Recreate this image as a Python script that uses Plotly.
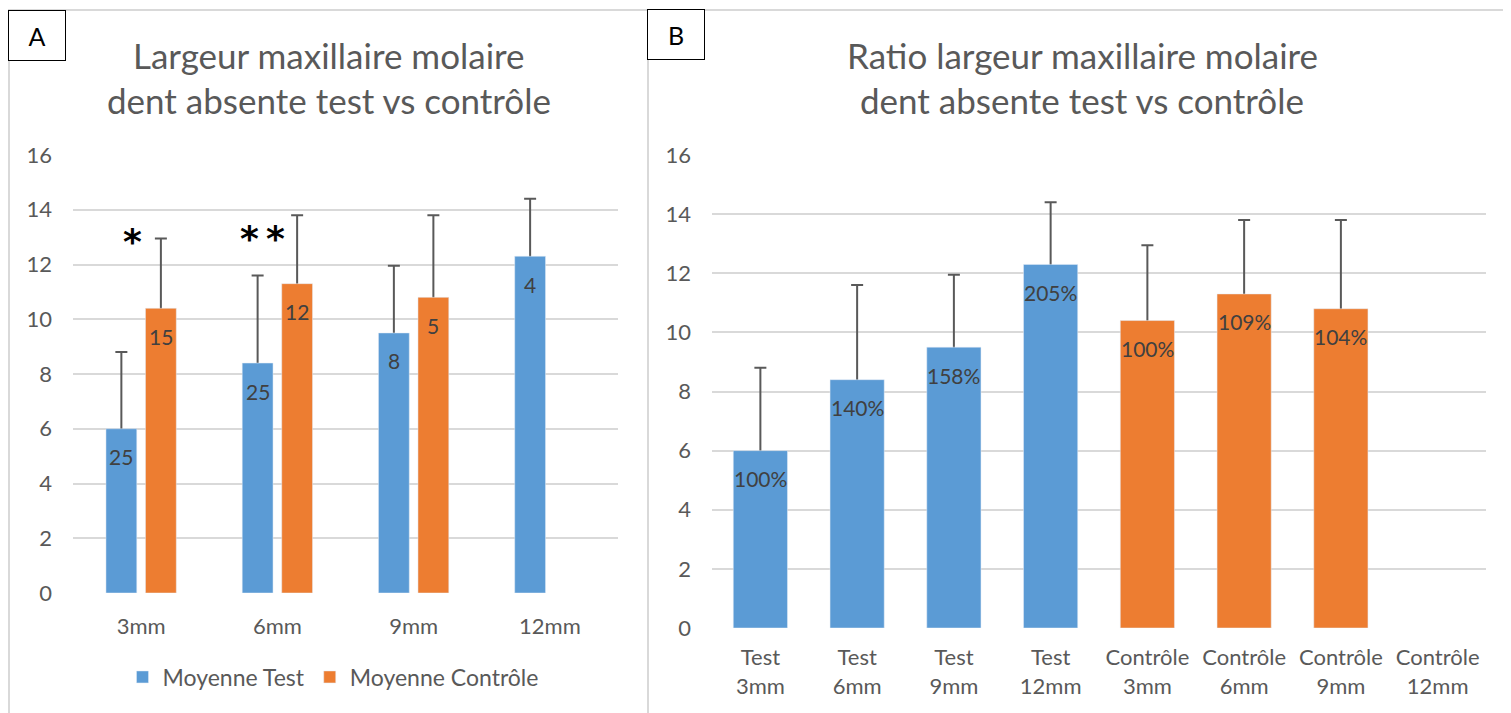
import plotly.graph_objects as go

# ---------------- data ----------------
sizes = ["3mm", "6mm", "9mm", "12mm"]
test_mean = [6.0, 8.4, 9.5, 12.3]
test_err = [2.8, 3.2, 2.45, 2.1]
test_n = [25, 25, 8, 4]
ctrl_mean = [10.4, 11.3, 10.8, None]
ctrl_err = [2.55, 2.5, 3.0, None]
ctrl_n = [15, 12, 5, None]
test_ratio = ["100%", "140%", "158%", "205%"]
ctrl_ratio = ["100%", "109%", "104%", None]
b_categories = ["Test<br>3mm", "Test<br>6mm", "Test<br>9mm", "Test<br>12mm",
                "Contrôle<br>3mm", "Contrôle<br>6mm", "Contrôle<br>9mm", "Contrôle<br>12mm"]
y_ticks = [0, 2, 4, 6, 8, 10, 12, 14, 16]
star_labels = ["*", "*\u2009*"]
star_levels = [12.85, 12.95]

# ---------------- style ----------------
W, H = 1511, 713
OFF = 8  # page body margin
BLUE = "#5B9BD5"
ORANGE = "#ED7D31"
GRID = "#D9D9D9"
TXT = "#595959"
LBL = "#404040"
ERR = "#595959"
FONT = "Lato"
BARGAP = 0.42
HIDE = 0.15  # error bar lower cap tucked under the bar top


def px_x(p):
    return (p - OFF) / W


def px_y(p):
    return 1 - (p - OFF) / H


def err_style(arr):
    return dict(type="data", symmetric=False, array=arr,
                arrayminus=[None if a is None else HIDE for a in arr],
                color=ERR, thickness=2, width=6)


clear = dict(color="rgba(0,0,0,0)", line=dict(width=0))
fig = go.Figure()

# --- error bar carriers (drawn first, covered by the real bars) ---
fig.add_trace(go.Bar(x=sizes, y=test_mean, marker=clear, offsetgroup="t", showlegend=False,
                     error_y=err_style(test_err), xaxis="x", yaxis="y", hoverinfo="skip"))
fig.add_trace(go.Bar(x=sizes, y=ctrl_mean, marker=clear, offsetgroup="c", showlegend=False,
                     error_y=err_style(ctrl_err), xaxis="x", yaxis="y", hoverinfo="skip"))

b_values = test_mean + ctrl_mean
b_err = test_err + ctrl_err
b_colors = [BLUE] * len(test_mean) + [ORANGE] * len(ctrl_mean)
b_text = test_ratio + ctrl_ratio
fig.add_trace(go.Bar(x=b_categories, y=b_values, marker=clear, width=0.56, offsetgroup="b",
                     showlegend=False, error_y=err_style(b_err), xaxis="x2", yaxis="y2",
                     hoverinfo="skip"))

# --- real bars ---
fig.add_trace(go.Bar(x=sizes, y=test_mean, name="Moyenne Test", marker_color=BLUE,
                     offsetgroup="t", xaxis="x", yaxis="y", hoverinfo="skip"))
fig.add_trace(go.Bar(x=sizes, y=ctrl_mean, name="Moyenne Contrôle", marker_color=ORANGE,
                     offsetgroup="c", xaxis="x", yaxis="y", hoverinfo="skip"))
fig.add_trace(go.Bar(x=b_categories, y=b_values, marker_color=b_colors, width=0.56,
                     offsetgroup="b", showlegend=False, xaxis="x2", yaxis="y2",
                     hoverinfo="skip"))

annotations = []
lbl_font = dict(family=FONT, size=21, color=LBL)
half = (1 - BARGAP) / 4
for i, (v, n) in enumerate(zip(test_mean, test_n)):
    annotations.append(dict(x=i - half, y=v, xref="x", yref="y", text=str(n), showarrow=False,
                            yshift=-28, font=lbl_font))
for i, (v, n) in enumerate(zip(ctrl_mean, ctrl_n)):
    if v is None:
        continue
    annotations.append(dict(x=i + half, y=v, xref="x", yref="y", text=str(n), showarrow=False,
                            yshift=-28, font=lbl_font))
for i, (v, t) in enumerate(zip(b_values, b_text)):
    if v is None:
        continue
    annotations.append(dict(x=i, y=v, xref="x2", yref="y2", text=t, showarrow=False,
                            yshift=-28, font=lbl_font))

# Significance stars
for i, (s, lv, xs) in enumerate(zip(star_labels, star_levels, [-9, -15])):
    annotations.append(dict(x=i, y=lv, xref="x", yref="y", text="<b>" + s + "</b>",
                            showarrow=False, xshift=xs,
                            font=dict(family="DejaVu Sans", size=36, color="black")))

# Titles
for cx, lines in [(329, ["Largeur maxillaire molaire", "dent absente test vs contrôle"]),
                  (1082, ["Ratio largeur maxillaire molaire", "dent absente test vs contrôle"])]:
    for ly, txt in zip([55, 100], lines):
        annotations.append(dict(x=px_x(cx), y=px_y(ly), xref="paper", yref="paper", text=txt,
                                showarrow=False, xanchor="center", yanchor="middle",
                                font=dict(family=FONT, size=35, color=TXT)))

# Panel letter boxes
for lx, ly, letter in [(8, 10, "A"), (647, 9, "B")]:
    annotations.append(dict(x=px_x(lx), y=px_y(ly), xref="paper", yref="paper", text=letter,
                            showarrow=False, xanchor="left", yanchor="top",
                            width=56, height=49, bgcolor="white", bordercolor="black",
                            borderwidth=1, borderpad=0,
                            font=dict(family=FONT, size=25, color="black")))

shapes = [
    dict(type="line", xref="paper", yref="paper", x0=px_x(8), x1=1.0, y0=px_y(10), y1=px_y(10),
         line=dict(color=GRID, width=2), layer="below"),
    dict(type="line", xref="paper", yref="paper", x0=px_x(9), x1=px_x(9), y0=0, y1=px_y(10),
         line=dict(color=GRID, width=2), layer="below"),
    dict(type="line", xref="paper", yref="paper", x0=px_x(648), x1=px_x(648), y0=0, y1=px_y(10),
         line=dict(color=GRID, width=2), layer="below"),
]

axis_common = dict(showline=False, zeroline=False, ticks="", automargin=False,
                   tickfont=dict(family=FONT, size=22, color=TXT))
yaxis_common = dict(axis_common, range=[0, 16], tickvals=y_ticks, showgrid=True,
                    gridcolor=GRID, gridwidth=2, ticklabelstandoff=20)

fig.update_layout(
    width=W, height=H,
    margin=dict(l=0, r=0, t=0, b=0, autoexpand=False),
    paper_bgcolor="white", plot_bgcolor="white",
    barmode="group", bargap=BARGAP, bargroupgap=0.22,
    xaxis=dict(axis_common, domain=[px_x(73), px_x(618)], anchor="y", showgrid=False,
               ticklabelstandoff=18),
    yaxis=dict(yaxis_common, domain=[px_y(593), px_y(155)], anchor="x"),
    xaxis2=dict(axis_common, domain=[px_x(712), px_x(1486)], anchor="y2", showgrid=False,
                categoryorder="array", categoryarray=b_categories, ticklabelstandoff=14),
    yaxis2=dict(yaxis_common, domain=[px_y(628), px_y(155)], anchor="x2"),
    legend=dict(orientation="h", x=px_x(333), xanchor="center", y=px_y(677), yanchor="middle",
                font=dict(family=FONT, size=23, color=TXT), bgcolor="rgba(0,0,0,0)",
                traceorder="normal"),
    annotations=annotations,
    shapes=shapes,
    showlegend=True,
)

fig.write_html("out.html")
